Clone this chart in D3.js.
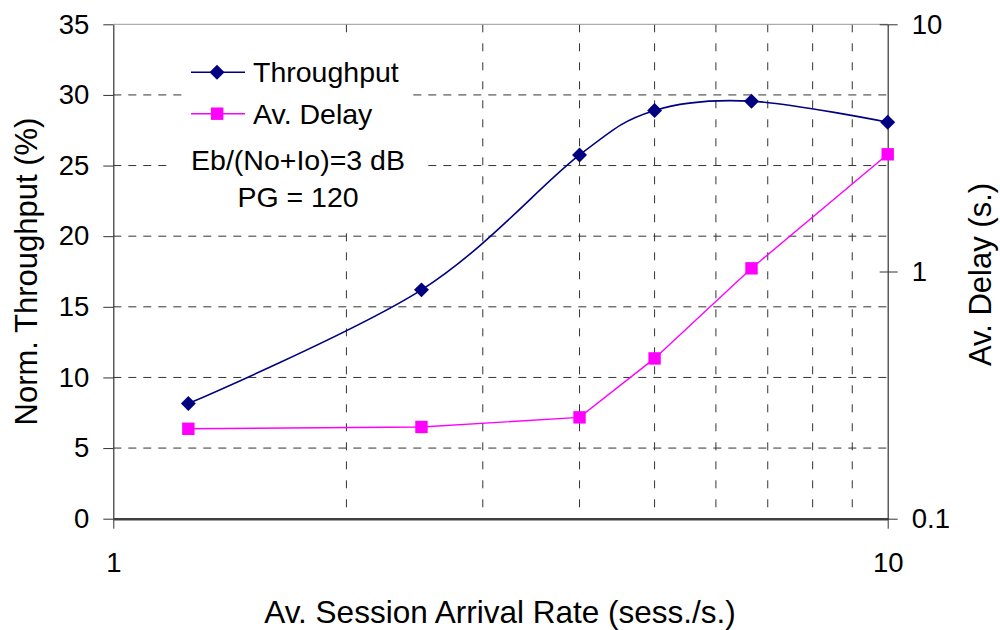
<!DOCTYPE html>
<html>
<head>
<meta charset="utf-8">
<script src="https://cdn.jsdelivr.net/npm/d3@7"></script>
<style>
  body { margin: 0; background: #fff; }
  text { font-family: "Liberation Sans", Arial, sans-serif; fill: #000; }
</style>
</head>
<body>
<script>
//// Data ////
const rates = [1.25, 2.5, 4, 5, 6.67, 10]
const throughput = [8.15, 16.2, 25.75, 28.9, 29.56, 28.07]
const delay = [0.231, 0.235, 0.257, 0.445, 1.03, 2.98]
const leftTicks = [0, 5, 10, 15, 20, 25, 30, 35]
const rightTicks = [0.1, 1, 10]
const xTicks = [1, 10]
const xGrid = [2, 3, 4, 5, 6, 7, 8, 9]

//// Layout ////
const WIDTH = 1000
const HEIGHT = 630
const X0 = 113.3, X1 = 887.7, Y0 = 24.3, Y1 = 518.7

const svg = d3.select("body").append("svg")
  .attr("width", WIDTH)
  .attr("height", HEIGHT)

const x = d3.scaleLog().domain([1, 10]).range([X0, X1])
const yL = d3.scaleLinear().domain([0, 35]).range([Y1, Y0])
const yR = d3.scaleLog().domain([0.1, 10]).range([Y1, Y0])

// grid
svg.append("g").selectAll("line").data(leftTicks.filter(d => d > 0 && d < 35)).join("line")
  .attr("x1", X0).attr("x2", X1)
  .attr("y1", d => yL(d)).attr("y2", d => yL(d))
  .attr("stroke", "#333").attr("stroke-width", 1).attr("stroke-dasharray", "8,7")
svg.append("g").selectAll("line").data(xGrid).join("line")
  .attr("x1", d => x(d)).attr("x2", d => x(d))
  .attr("y1", Y0).attr("y2", Y1)
  .attr("stroke", "#333").attr("stroke-width", 1).attr("stroke-dasharray", "8,11")

// top border
svg.append("line").attr("x1", X0).attr("x2", X1).attr("y1", Y0).attr("y2", Y0)
  .attr("stroke", "#999").attr("stroke-width", 1)

// legend / note backgrounds
svg.append("rect").attr("x", 183).attr("y", 37).attr("width", 229).attr("height", 96).attr("fill", "#fff")
svg.append("rect").attr("x", 168).attr("y", 137).attr("width", 260).attr("height", 86).attr("fill", "#fff")

// axes
const fontTick = "27.5px"
const axL = svg.append("g").attr("transform", `translate(${X0},0)`)
  .call(d3.axisLeft(yL).tickValues(leftTicks).tickSize(10).tickPadding(14).tickSizeOuter(0))
const axR = svg.append("g").attr("transform", `translate(${X1},0)`)
  .call(d3.axisRight(yR).tickValues(rightTicks).tickFormat(d3.format("~g")).tickSize(10).tickPadding(14).tickSizeOuter(0))
axR.selectAll(".tick line").attr("x1", -8)
const axB = svg.append("g").attr("transform", `translate(0,${Y1})`)
  .call(d3.axisBottom(x).tickValues(xTicks).tickFormat(d3.format("~g")).tickSize(10).tickPadding(24).tickSizeOuter(0))

for (const ax of [axL, axR, axB]) {
  ax.selectAll("text").style("font-size", fontTick).style("font-family", "Liberation Sans, Arial, sans-serif").attr("fill", "#000")
  ax.selectAll("line").attr("stroke", "#333")
  ax.select(".domain").attr("stroke", "#333")
}
axB.select(".domain").attr("stroke", "#404040").attr("stroke-width", 2.5)
axL.select(".domain").attr("stroke-width", 1.2)
axR.select(".domain").attr("stroke-width", 1.2)

// lines
const throughputData = rates.map((r, i) => [r, throughput[i]])
const delayData = rates.map((r, i) => [r, delay[i]])

svg.append("path").datum(delayData)
  .attr("d", d3.line().x(d => x(d[0])).y(d => yR(d[1])))
  .attr("fill", "none").attr("stroke", "#ff00ff").attr("stroke-width", 1.4)

svg.append("path").datum(throughputData)
  .attr("d", d3.line().x(d => x(d[0])).y(d => yL(d[1])).curve(d3.curveCardinal.tension(0)))
  .attr("fill", "none").attr("stroke", "#000080").attr("stroke-width", 1.6)

const diamond = d3.symbol().type(d3.symbolSquare).size(112)
svg.append("g").selectAll("path").data(throughputData).join("path")
  .attr("d", diamond)
  .attr("transform", d => `translate(${x(d[0])},${yL(d[1])}) rotate(45)`)
  .attr("fill", "#000080")

svg.append("g").selectAll("rect").data(delayData).join("rect")
  .attr("x", d => x(d[0]) - 6.2).attr("y", d => yR(d[1]) - 6.2)
  .attr("width", 12.4).attr("height", 12.4)
  .attr("fill", "#ff00ff")

// legend
const legend = [
  { name: "Throughput", color: "#000080", y: 72.3, marker: "diamond" },
  { name: "Av. Delay", color: "#ff00ff", y: 113.7, marker: "square" }
]
for (const l of legend) {
  svg.append("line").attr("x1", 191).attr("x2", 245).attr("y1", l.y).attr("y2", l.y)
    .attr("stroke", l.color).attr("stroke-width", 1.5)
  if (l.marker == "diamond") {
    svg.append("path").attr("d", diamond).attr("transform", `translate(217,${l.y}) rotate(45)`).attr("fill", l.color)
  } else {
    svg.append("rect").attr("x", 211).attr("y", l.y - 6.2).attr("width", 12.4).attr("height", 12.4).attr("fill", l.color)
  }
  svg.append("text").attr("x", 253).attr("y", l.y + 10).style("font-size", "28.5px").text(l.name)
}

svg.append("text").attr("x", 298).attr("y", 170).attr("text-anchor", "middle").style("font-size", "28.5px").text("Eb/(No+Io)=3 dB")
svg.append("text").attr("x", 298).attr("y", 207).attr("text-anchor", "middle").style("font-size", "28.5px").text("PG = 120")

// axis titles
svg.append("text").attr("x", 500).attr("y", 623).attr("text-anchor", "middle").style("font-size", "31.5px")
  .text("Av. Session Arrival Rate (sess./s.)")
svg.append("text").attr("transform", `translate(37,${(Y0 + Y1) / 2}) rotate(-90)`).attr("text-anchor", "middle").style("font-size", "31px")
  .text("Norm. Throughput (%)")
svg.append("text").attr("transform", `translate(991,${(Y0 + Y1) / 2 + 3}) rotate(-90)`).attr("text-anchor", "middle").style("font-size", "31px")
  .text("Av. Delay (s.)")
</script>
</body>
</html>
